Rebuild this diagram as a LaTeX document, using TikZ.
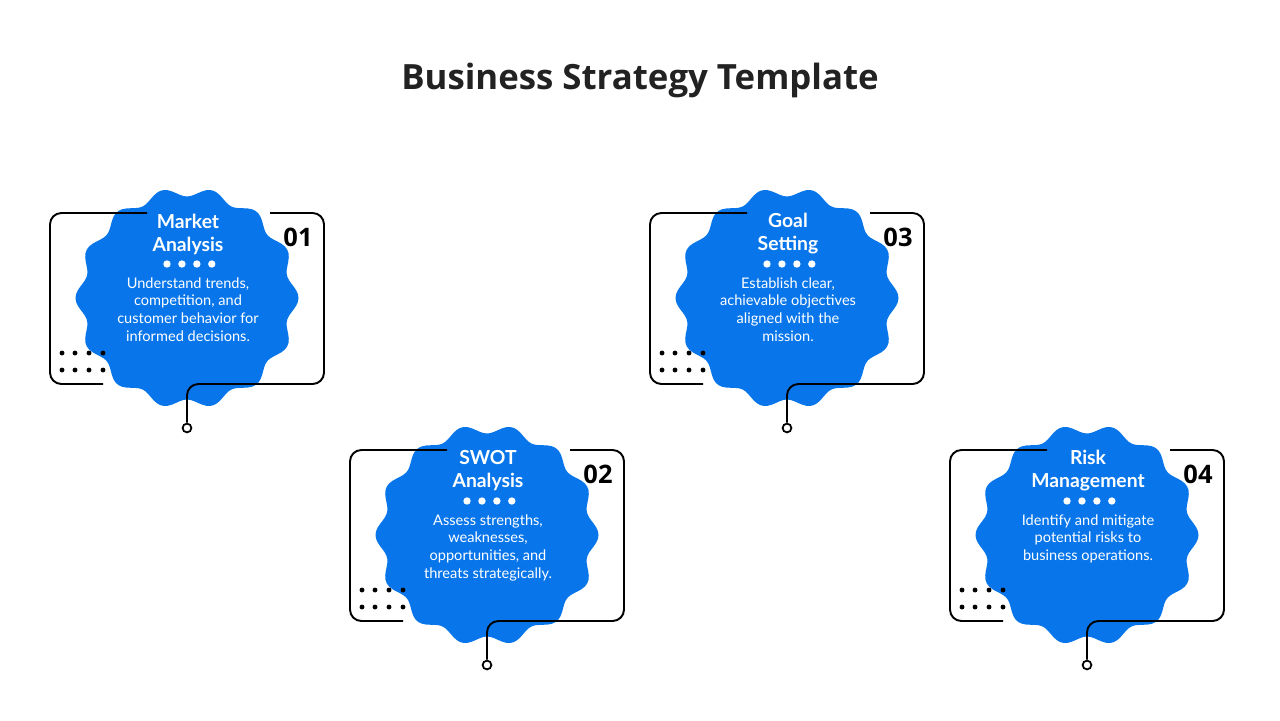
\documentclass[tikz,border=0pt]{standalone}
\usepackage{fontspec}
\setmainfont{Lato}
\newfontfamily\headfont{Open Sans}
\usetikzlibrary{positioning}
\definecolor{blobcolor}{RGB}{8,118,234}
\definecolor{titlecolor}{RGB}{34,34,34}

\begin{document}
\begin{tikzpicture}[
    x=0.02cm, y=-0.02cm,
    every node/.style={inner sep=0pt},
    titletext/.style={font=\headfont\fontsize{19.8pt}{22pt}\selectfont\bfseries, text=titlecolor},
    headtext/.style={font=\fontsize{11pt}{13.1pt}\selectfont\bfseries, text=white, align=center},
    bodytext/.style={font=\fontsize{8.3pt}{10.07pt}\selectfont, text=white, align=center},
    numtext/.style={font=\headfont\fontsize{14.5pt}{16pt}\selectfont\bfseries, text=black},
    frame/.style={draw=black, line width=1.1pt, rounded corners=6.5pt},
    pin/.style={circle, draw=black, fill=white, line width=1.0pt, minimum size=5pt},
    whitedot/.style={circle, fill=white, minimum size=4.2pt},
    blackdot/.style={circle, fill=black, minimum size=2.8pt},
]
\useasboundingbox (0,0) rectangle (1280,720);

%% ── Title ────────────────────────────────────────────────────────────────────
\node[titletext] (title) at (640,80) {Business Strategy Template};

%% ── Cards: offset / number / heading / text ─────────────────────────────────
\foreach \dx/\dy/\n/\head/\body in {
    0/0/01/{Market\\Analysis}/{Understand trends,\\competition, and\\customer behavior for\\informed decisions.},
    300/237/02/{SWOT\\Analysis}/{Assess strengths,\\weaknesses,\\opportunities, and\\threats strategically.},
    600/0/03/{Goal\\Setting}/{Establish clear,\\achievable objectives\\aligned with the\\mission.},
    900/237/04/{Risk\\Management}/{Identify and mitigate\\potential risks to\\business operations.}}
{
  \begin{scope}[shift={(\dx,\dy)}]
    % wavy badge
    \fill[blobcolor] plot[smooth cycle, domain=0:358, samples=180, variable=\t]
      ({187+(107+4.5*cos(14*\t))*cos(\t)}, {298+(106+4.5*cos(14*\t))*sin(\t)});

    % broken frame with pin
    \node[pin] (pin\n) at (187,428) {};
    \draw[frame] (147,213) -- (50,213) -- (50,384) -- (103,384);
    \draw[frame] (270,213) -- (324,213) -- (324,384) -- (187,384) -- (pin\n.north);

    % dot grid
    \foreach \px in {62,75,89,103}
      \foreach \py in {353,370}
        \node[blackdot] at (\px,\py) {};

    % texts
    \node[headtext] (head\n) at (188,234) {\head};
    \node[whitedot] (d1\n) at (167,264) {};
    \node[whitedot, right=8.5pt of d1\n.center, anchor=center] (d2\n) {};
    \node[whitedot, right=8.5pt of d2\n.center, anchor=center] (d3\n) {};
    \node[whitedot, right=8.5pt of d3\n.center, anchor=center] (d4\n) {};
    \node[bodytext, anchor=north] (body\n) at (188,277) {\body};
    \node[numtext] (num\n) at (298,237) {\n};
  \end{scope}
}

\end{tikzpicture}
\end{document}
